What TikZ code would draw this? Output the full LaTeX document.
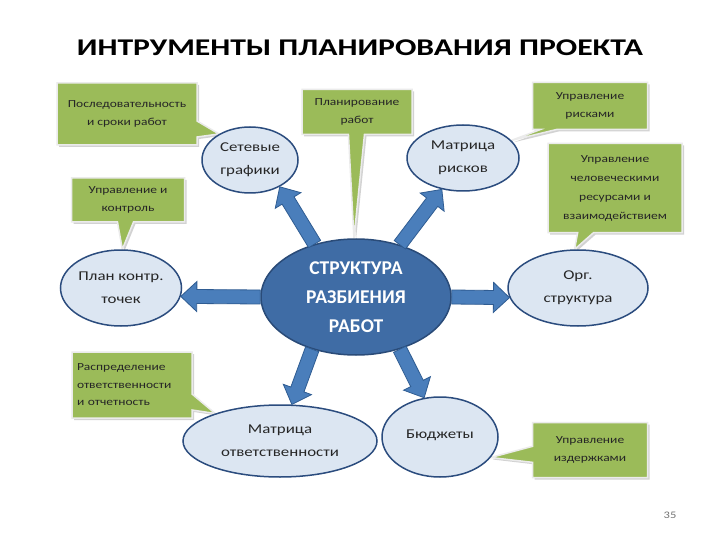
\documentclass[tikz,border=0pt]{standalone}
\usepackage{fontspec}
\setmainfont{Carlito}[FakeStretch=1.25]
\newfontfamily\cfont{Carlito}
\newfontfamily\tfont{Carlito}[FakeStretch=1.32]
\usetikzlibrary{shapes.geometric,shapes.callouts,shadows,calc}
\definecolor{ellfill}{HTML}{DCE6F2}
\definecolor{elldraw}{HTML}{2B4C7E}
\definecolor{cfill}{HTML}{3F6CA5}
\definecolor{cdraw}{HTML}{2A4B78}
\definecolor{afill}{HTML}{4A7EBB}
\definecolor{adraw}{HTML}{2F5C92}
\definecolor{gfill}{HTML}{9BBB59}
\pgfdeclarelayer{back}
\pgfdeclarelayer{bg}
\pgfsetlayers{back,bg,main}
\tikzset{
 oval/.style={ellipse, draw=elldraw, fill=ellfill, line width=1.5pt, inner sep=0pt, align=center,
   font=\fontsize{13.5}{23}\selectfont, text=black!85},
 note/.style={rectangle callout, fill=gfill, draw=white!92!black, line width=1.5pt,
   callout pointer width=16pt, inner sep=0pt, align=center, text=black!85,
   font=\fontsize{10.8}{18}\selectfont,
   drop shadow={shadow xshift=2pt,shadow yshift=-2pt,opacity=0.35}},
 barrow/.style={fill=afill, draw=adraw, line width=0.8pt, line join=miter}
}
\newcommand\blockarrow[2]{%
 \path let \p1=(#1), \p2=(#2), \n1={atan2(\y2-\y1,\x2-\x1)}, \n2={veclen(\x2-\x1,\y2-\y1)} in
   \pgfextra{\pgfmathsetmacro\barangtmp{\n1}\xdef\barang{\barangtmp}%
     \pgfmathsetmacro\barbtmp{\n2-16}\xdef\barb{\barbtmp}%
     \pgfmathsetmacro\barltmp{\n2}\xdef\barlen{\barltmp}};
 \begin{scope}[shift={(#1)}, rotate=\barang]
  \draw[barrow] (0pt,-7pt) -- (\barb pt,-7pt) -- (\barb pt,-15pt) -- (\barlen pt,0pt)
    -- (\barb pt,15pt) -- (\barb pt,7pt) -- (0pt,7pt) -- cycle;
 \end{scope}}
\begin{document}
\begin{tikzpicture}[x=1pt,y=-1pt]
\begin{pgfonlayer}{back}
\fill[white] (0,0) rectangle (720,540);
\end{pgfonlayer}
\useasboundingbox (0,0) rectangle (720,540);

\node[font=\tfont\fontsize{24}{30}\selectfont\bfseries] (title) at (360,48) {ИНТРУМЕНТЫ ПЛАНИРОВАНИЯ ПРОЕКТА};

\node[ellipse, draw=cdraw, fill=cfill, line width=1.5pt, minimum width=190pt, minimum height=116pt,
  inner sep=0pt, align=center, text=white, font=\cfont\fontsize{19.5}{29}\selectfont\bfseries] (c) at (356,297)
  {СТРУКТУРА\\РАЗБИЕНИЯ\\РАБОТ};

\node[oval, minimum width=96pt, minimum height=66pt] (net) at (250,160) {Сетевые\\графики};
\node[oval, minimum width=112pt, minimum height=66pt] (risk) at (463,158) {Матрица\\рисков};
\node[oval, minimum width=121pt, minimum height=76pt] (plan) at (121,288) {План контр.\\точек};
\node[oval, minimum width=140pt, minimum height=76pt] (org) at (578,288) {Орг.\\структура};
\node[oval, minimum width=194pt, minimum height=72pt] (resp) at (280,441) {Матрица\\ответственности};
\node[oval, minimum width=116pt, minimum height=80pt] (bud) at (440,437) {\raisebox{5pt}{Бюджеты}};

\blockarrow{c.128}{net.-42}
\blockarrow{c.50}{risk.-124}
\blockarrow{c.180}{plan.-8}
\blockarrow{c.0}{org.188}
\blockarrow{c.-130}{resp.72}
\blockarrow{c.-50}{bud.112}

\begin{pgfonlayer}{bg}
\node[note, minimum width=140pt, minimum height=62pt, callout absolute pointer={(net.140)}] (n1) at (127,114)
  {Последовательность\\и сроки работ};
\node[note, minimum width=110pt, minimum height=45pt, callout absolute pointer={(c.92)}] (n2) at (357,112)
  {Планирование\\работ};
\node[note, minimum width=115pt, minimum height=47pt, callout absolute pointer={(risk.20)}] (n3) at (590,106)
  {Управление\\рисками};
\node[note, minimum width=134pt, minimum height=89pt, callout absolute pointer={(org.95)},
  font=\fontsize{10.8}{19}\selectfont] (n4) at (615,188)
  {Управление\\человеческими\\ресурсами и\\взаимодействием};
\node[note, minimum width=113pt, minimum height=44pt, callout absolute pointer={(plan.88)}] (n5) at (128,200)
  {Управление и\\контроль};
\node[note, minimum width=120pt, minimum height=66pt, callout absolute pointer={(resp.157)},
  align=left, text width=110pt, font=\fontsize{10.8}{17.5}\selectfont] (n6) at (132,385)
  {Распределение\\ответственности\\и отчетность};
\node[note, minimum width=115pt, minimum height=55pt, callout absolute pointer={(bud.-22)}] (n7) at (590,450)
  {Управление\\издержками};
\end{pgfonlayer}

\node[text=black!55, font=\fontsize{10}{12}\selectfont] (pg) at (670,515) {35};
\end{tikzpicture}
\end{document}
